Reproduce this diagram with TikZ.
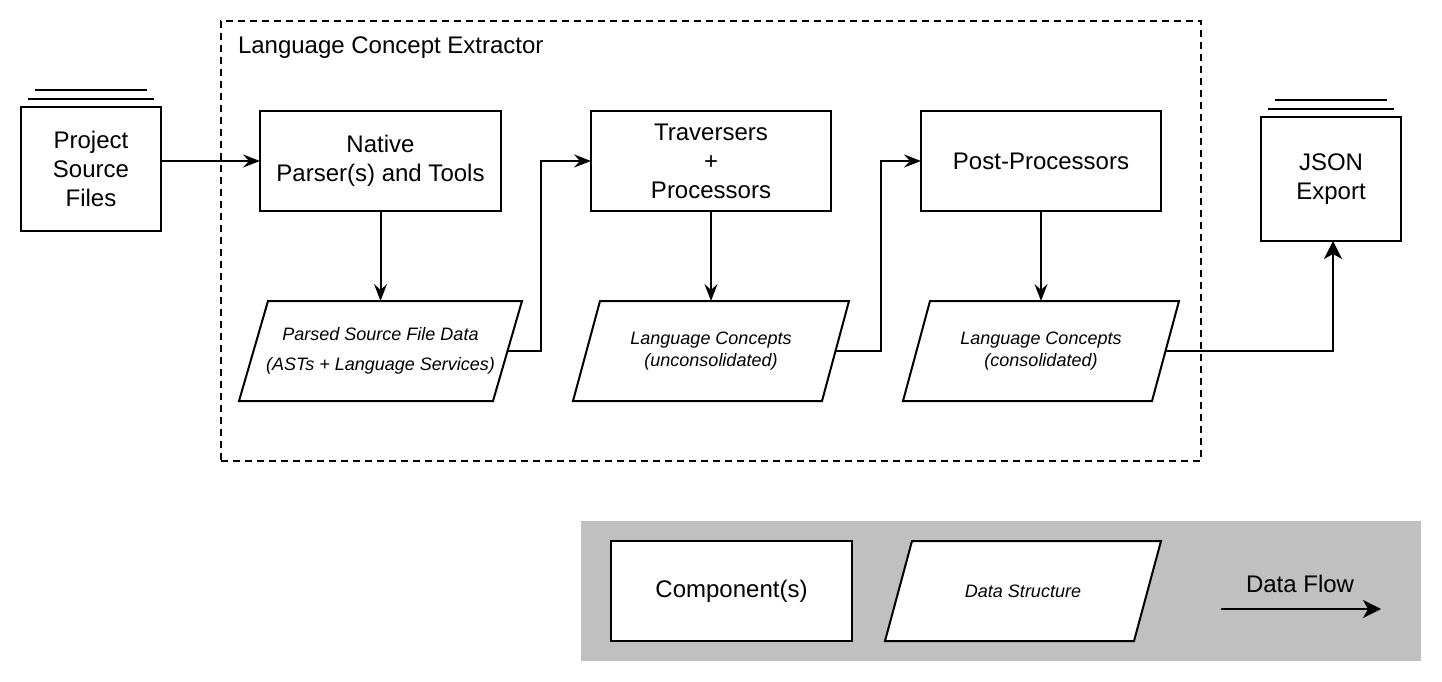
\documentclass[tikz,border=0pt]{standalone}
\usepackage{fontspec}
\setmainfont{Liberation Sans}
\usetikzlibrary{arrows.meta,calc}
\definecolor{legendgray}{RGB}{192,192,192}
\newcommand\drawparallelo[2]{\draw ($(#1.north west)+(#2,0)$) -- (#1.north east) -- ($(#1.south east)+(-#2,0)$) -- (#1.south west) -- cycle;}
\begin{document}
\begin{tikzpicture}[x=1pt,y=-1pt,line width=2pt,
  comp/.style={draw, rectangle, inner sep=0pt, outer sep=0pt, align=center, font=\fontsize{24}{29}\selectfont},
  dshape/.style={rectangle, inner sep=0pt, outer sep=0pt, minimum height=100pt, align=center, font=\fontsize{18}{22}\selectfont\itshape},
  flow/.style={-{Stealth[length=17pt,width=13pt,inset=6pt]}},
  bigflow/.style={-{Stealth[length=18pt,width=18pt,inset=5pt]}},
  lbl/.style={inner sep=0pt, align=center, font=\fontsize{24}{29}\selectfont}
]
\useasboundingbox (0,0) rectangle (1442,682);

% container
\node[draw, dashed, dash pattern=on 7pt off 5pt, minimum width=980pt, minimum height=440pt, inner sep=0pt, outer sep=0pt] (extractor) at (711,241) {};
\node[lbl, anchor=west] (title) at (237,48) {Language Concept Extractor};

% source and sink
\node[comp, minimum width=140pt, minimum height=124pt] (psf) at (91,169) {Project\\Source\\Files};
\draw ($(psf.north west)+(14,-17)$) -- ($(psf.north east)+(-14,-17)$);
\draw ($(psf.north west)+(7,-8)$) -- ($(psf.north east)+(-7,-8)$);

\node[comp, minimum width=140pt, minimum height=124pt] (json) at (1331,179) {JSON\\Export};
\draw ($(json.north west)+(14,-17)$) -- ($(json.north east)+(-14,-17)$);
\draw ($(json.north west)+(7,-8)$) -- ($(json.north east)+(-7,-8)$);

% components
\node[comp, minimum width=241pt, minimum height=100pt] (native) at (380.5,161) {Native\\Parser(s) and Tools};
\node[comp, minimum width=240pt, minimum height=100pt] (trav) at (711,161) {Traversers\\+\\Processors};
\node[comp, minimum width=240pt, minimum height=100pt] (post) at (1041,161) {Post-Processors};

% data structures
\node[dshape, minimum width=283pt] (p1) at (380.5,351) {Parsed Source File Data\\[8pt](ASTs + Language Services)};
\drawparallelo{p1}{29}
\node[dshape, minimum width=276pt] (p2) at (711,351) {Language Concepts\\(unconsolidated)};
\drawparallelo{p2}{27}
\node[dshape, minimum width=276pt] (p3) at (1041,351) {Language Concepts\\(consolidated)};
\drawparallelo{p3}{27}

% flows
\draw[flow] (psf.east |- native.west) -- (native.west);
\draw[flow] (native.south) -- (p1.north);
\draw[flow] ($(p1.east)+(-14.5,0)$) -- ++(33.5,0) |- (trav.west);
\draw[flow] (trav.south) -- (p2.north);
\draw[flow] ($(p2.east)+(-13.5,0)$) -- ++(45.5,0) |- (post.west);
\draw[flow] (post.south) -- (p3.north);
\draw[bigflow] ($(p3.east)+(-13.5,0)$) -| ($(json.south)+(2,0)$);

% legend
\node[fill=legendgray, minimum width=840pt, minimum height=140pt, inner sep=0pt, outer sep=0pt] (legend) at (1001,591) {};
\node[comp, fill=white, minimum width=241pt, minimum height=100pt] (lcomp) at (731.5,591) {Component(s)};
\coordinate (ldc) at (1023,591);
\fill[white] ($(ldc)+(-111,-50)$) -- ($(ldc)+(138,-50)$) -- ($(ldc)+(111,50)$) -- ($(ldc)+(-138,50)$) -- cycle;
\node[dshape, minimum width=276pt] (ldata) at (ldc) {Data Structure};
\drawparallelo{ldata}{27}
\node[lbl] (lflow) at (1300,584) {Data Flow};
\coordinate (lfs) at (1221,609);
\coordinate (lfe) at (1381,609);
\draw[bigflow] (lfs) -- (lfe);
\end{tikzpicture}
\end{document}
